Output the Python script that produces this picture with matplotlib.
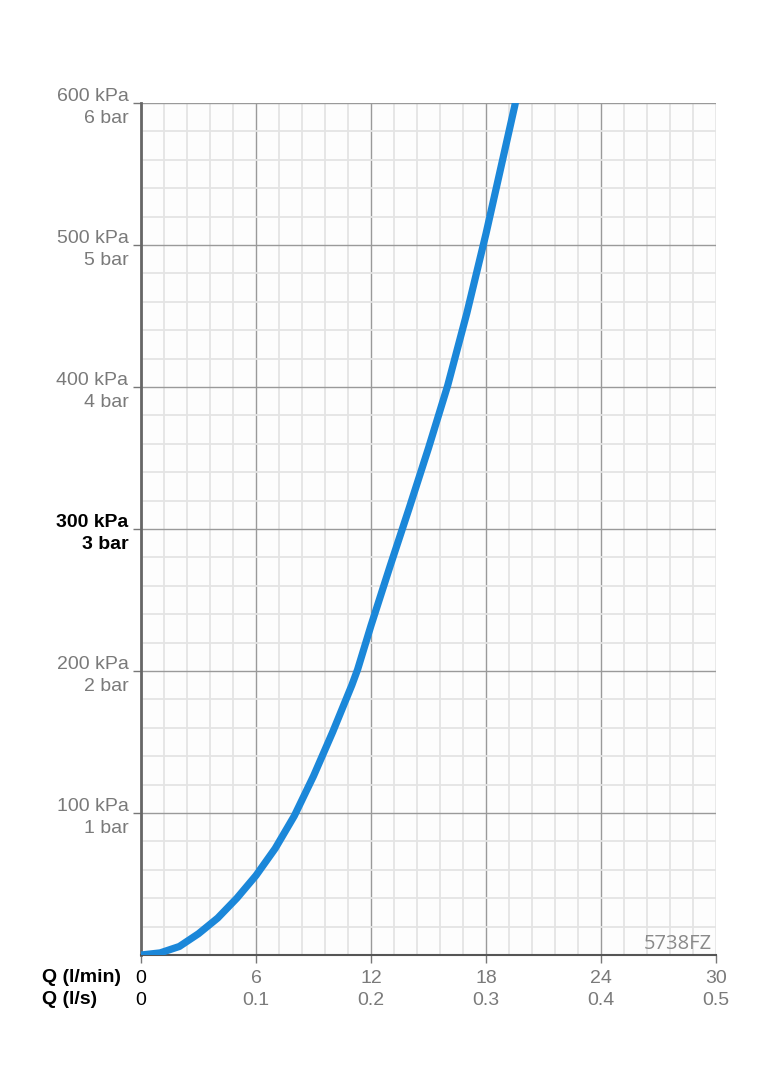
import numpy as np
import matplotlib
matplotlib.use("Agg")
import matplotlib.pyplot as plt
from matplotlib.ticker import MultipleLocator

plt.rcParams['font.family'] = ['Liberation Sans', 'DejaVu Sans']

# pressure drop curve (flow l/min -> kPa)
q_lmin = [0, 1, 2, 3, 4, 5, 6, 7, 8, 9, 10, 11, 11.3,
          12, 13, 14, 15, 16, 17, 18, 19, 19.5, 19.7]
p_kpa = [0, 1.5, 6, 15, 26, 40, 56, 75, 98, 126, 157, 190, 201,
         232, 274, 315, 357, 401, 452, 508, 568, 598, 612]

y_ticks = [100, 200, 300, 400, 500, 600]
y_labels = ['100 kPa\n1 bar', '200 kPa\n2 bar', '300 kPa\n3 bar',
            '400 kPa\n4 bar', '500 kPa\n5 bar', '600 kPa\n6 bar']
x_ticks = [0, 6, 12, 18, 24, 30]
x_labels = ['0\n0', '6\n0.1', '12\n0.2', '18\n0.3', '24\n0.4', '30\n0.5']
model = '5738FZ'

grey = '#7a7a7a'

fig = plt.figure(figsize=(7.64, 10.8), dpi=100)
ax = fig.add_axes([141 / 764, 1 - 955 / 1080, 575 / 764, 852 / 1080])
ax.set_facecolor('#fdfdfd')

ax.plot(q_lmin, p_kpa, color='#1b87d9', lw=5.2, solid_capstyle='butt',
        solid_joinstyle='round', zorder=5)

ax.set_xlim(0, 30)
ax.set_ylim(0, 600)

ax.xaxis.set_minor_locator(MultipleLocator(1.2))
ax.yaxis.set_minor_locator(MultipleLocator(20))
ax.grid(which='minor', color='#e4e4e4', lw=1.3)
ax.grid(which='major', color='#9a9a9a', lw=1.0)
ax.set_axisbelow(True)

ax.set_xticks(x_ticks)
ax.set_xticklabels(x_labels, fontsize=14, color=grey, linespacing=1.4)
ax.set_yticks(y_ticks)
ax.set_yticklabels(y_labels, fontsize=14, color=grey, linespacing=1.4)
for lab in ax.get_yticklabels():
    lab.set_multialignment('right')
    if lab.get_text().startswith('300'):
        lab.set_color('black')
        lab.set_fontweight('bold')
for lab in ax.get_xticklabels():
    lab.set_multialignment('center')
    if lab.get_text().startswith('0'):
        lab.set_color('black')

ax.tick_params(which='major', length=6, width=1, color='#777777')
ax.tick_params(axis='y', pad=3)
ax.tick_params(axis='x', pad=5)
ax.tick_params(which='minor', length=0)

for side in ['top', 'right']:
    ax.spines[side].set_visible(False)
ax.spines['left'].set_color('#666666')
ax.spines['left'].set_linewidth(2)
ax.spines['bottom'].set_color('#555555')
ax.spines['bottom'].set_linewidth(1.5)

ax.text(0.993, 0.001, model, transform=ax.transAxes, ha='right', va='bottom',
        fontsize=14.5, color='#8a8a8a', family=['Open Sans', 'DejaVu Sans'])

fig.text(42 / 764, 1 - 977 / 1080, 'Q (l/min)', ha='left', va='center',
         fontsize=14, fontweight='bold')
fig.text(42 / 764, 1 - 1000 / 1080, 'Q (l/s)', ha='left', va='center',
         fontsize=14, fontweight='bold')

fig.savefig('out.png', dpi=100, facecolor='white')
